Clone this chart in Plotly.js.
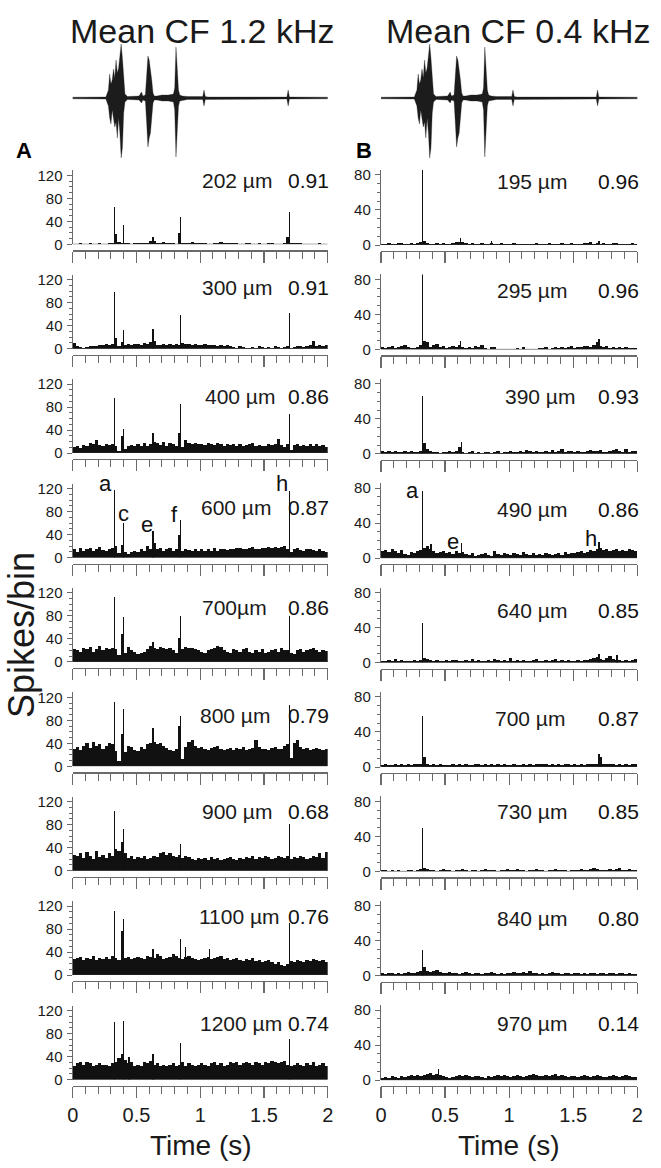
<!DOCTYPE html>
<html>
<head>
<meta charset="utf-8">
<script src="https://cdn.plot.ly/plotly-3.0.1.min.js"></script>
<style>html,body{margin:0;padding:0;background:#fff;}</style>
</head>
<body>
<div id="chart" style="width:661px;height:1168px;"></div>
<script>
// ---------------- DATA ----------------
const BIN = 0.025; // PSTH display bin (s) for background activity
const depthsA = ['202 µm','300 µm','400 µm','600 µm','700µm','800 µm','900 µm','1100 µm','1200 µm'];
const corrA   = ['0.91','0.91','0.86','0.87','0.86','0.79','0.68','0.76','0.74'];
const depthsB = ['195 µm','295 µm','390 µm','490 µm','640 µm','700 µm','730 µm','840 µm','970 µm'];
const corrB   = ['0.96','0.96','0.93','0.86','0.85','0.87','0.85','0.80','0.14'];

// background activity (spikes/bin), 80 bins over 0-2 s
const noiseA = [
 [1,1,2,1,0,2,1,1,2,1, 1,2,3,18,4,3,2,2,1,2, 2,3,2,2,5,5,2,2,4,2, 2,2,1,20,3,3,2,4,3,2, 2,2,1,1,2,3,4,3,2,3, 2,2,1,1,2,2,1,1,2,1, 1,2,2,1,1,1,2,13,3,2, 2,2,1,1,1,1,1,2,1,1],
 [10,4,3,2,3,4,4,5,6,7, 8,6,9,18,4,12,6,8,7,9, 8,6,10,9,12,14,6,7,8,6, 8,7,9,6,10,8,9,7,8,7, 6,8,7,6,7,5,6,5,6,4, 3,2,4,3,2,1,3,2,4,3, 2,3,1,4,3,2,3,5,2,3, 4,5,3,4,6,13,5,6,5,7],
 [10,12,9,14,12,18,15,22,14,12, 16,14,15,12,3,30,8,13,14,12, 15,13,17,12,16,20,18,14,19,13, 17,15,12,35,10,22,18,16,18,15, 16,14,17,15,14,18,15,13,16,14, 15,13,16,12,14,15,17,13,14,12, 13,15,14,16,25,14,10,15,5,14, 16,12,14,12,15,13,16,12,14,11],
 [14,10,16,12,14,16,12,15,18,13, 12,14,16,20,8,22,10,6,9,12, 10,14,12,20,15,25,14,16,12,14, 16,12,14,40,12,15,13,12,14,12, 15,12,14,12,16,12,14,15,13,14, 15,16,17,14,15,16,18,14,15,17, 16,18,17,19,16,18,20,15,10,14, 16,13,12,15,14,13,12,14,11,10],
 [22,20,18,24,22,26,18,22,27,20, 24,22,25,22,12,48,16,26,20,18, 14,16,18,22,28,24,22,26,24,22, 25,20,16,42,22,26,24,25,22,20, 18,15,20,22,24,28,26,20,18,16, 22,20,18,22,24,18,16,20,18,22, 16,18,20,22,18,24,20,20,16,14, 20,22,18,20,22,24,20,18,20,19],
 [30,34,28,36,40,32,42,36,38,30, 36,40,38,26,10,57,24,36,34,28, 26,34,30,38,40,42,38,40,36,32, 28,26,30,70,12,34,42,45,36,32, 34,30,28,32,34,36,30,28,30,32, 28,32,30,34,28,30,32,46,34,30, 30,28,32,34,30,30,36,38,15,40, 45,34,30,32,28,30,32,30,28,30],
 [28,25,30,22,32,26,20,35,24,28, 22,30,25,38,34,50,30,22,26,20, 24,22,26,20,22,26,24,30,32,28, 30,26,24,28,22,25,24,20,18,22, 20,22,18,24,20,22,18,20,22,24, 20,18,22,20,24,22,26,20,24,22, 26,24,20,22,26,24,22,25,20,24, 22,26,24,20,22,26,24,30,22,32],
 [28,30,32,26,30,28,34,26,30,28, 32,28,34,30,26,77,30,32,28,30, 32,30,28,34,32,30,36,34,28,30, 32,36,34,30,28,32,34,30,28,26, 28,30,32,28,30,32,34,28,30,26, 28,30,26,24,28,26,30,24,26,22, 24,26,22,20,22,18,16,20,24,22, 26,24,22,26,24,28,26,24,26,22],
 [24,28,30,26,30,28,24,26,28,25, 26,24,28,30,38,44,34,28,30,24, 26,24,30,28,32,26,28,24,26,24, 26,28,24,26,30,24,28,26,24,26, 28,26,24,28,30,26,28,24,26,30, 28,30,26,28,30,28,26,30,28,26, 30,28,32,30,28,30,32,26,24,26, 28,26,24,28,26,30,24,26,28,24]
];
const noiseB = [
 [1,1,2,1,1,2,2,1,1,2, 1,2,3,5,2,1,1,2,1,2, 1,1,2,3,4,3,2,1,2,1, 1,2,1,1,2,1,1,2,1,1, 1,2,1,1,1,1,1,1,2,1, 1,1,2,1,1,1,2,1,1,2, 1,1,1,2,2,3,1,2,1,2, 1,1,2,2,1,1,1,1,2,1],
 [3,2,3,4,2,3,4,5,3,2, 2,3,5,10,8,3,5,6,3,4, 2,3,4,3,5,3,2,3,2,4, 3,5,2,1,3,3,1,0,1,1, 0,1,2,1,3,1,1,0,1,2, 2,3,1,2,3,2,3,2,3,4, 2,3,3,4,4,3,5,8,4,3, 4,2,3,2,3,2,3,2,2,2],
 [3,2,3,2,3,2,2,3,2,3, 2,2,3,12,5,3,2,2,1,2, 2,3,2,3,8,2,1,2,3,1, 2,1,2,2,1,2,3,1,2,2, 3,2,2,3,2,4,3,2,3,2, 2,3,2,4,2,3,5,2,3,3, 2,3,2,2,3,4,3,3,4,2, 2,3,4,5,3,2,6,2,3,3],
 [8,9,7,10,8,6,9,5,4,7, 6,8,9,12,14,10,8,6,7,8, 6,7,5,8,6,7,5,4,6,3, 4,5,6,4,3,8,5,4,6,5, 4,6,5,4,7,5,4,6,4,5, 4,6,5,4,5,6,4,7,5,6, 6,7,8,6,7,9,8,10,12,9, 10,8,9,10,8,9,8,10,9,8],
 [2,2,3,2,4,2,3,2,2,2, 3,2,3,5,4,3,2,3,2,2, 3,2,3,3,2,2,3,2,4,2, 3,2,2,3,2,4,3,2,3,2, 5,2,3,2,3,2,2,3,4,2, 2,3,2,3,4,2,3,2,3,2, 2,3,2,3,3,4,5,6,4,3, 5,7,4,3,3,2,3,2,3,4],
 [2,3,2,2,3,2,4,2,3,2, 3,4,3,12,3,2,3,2,3,2, 2,2,3,2,3,2,3,2,2,3, 3,2,3,2,3,2,3,2,3,2, 2,3,2,2,3,2,3,2,3,3, 4,3,2,3,2,3,2,4,3,2, 3,2,3,2,3,4,3,3,12,3, 3,4,3,2,3,2,3,2,3,4],
 [2,2,1,2,1,2,1,1,2,2, 1,2,3,4,3,2,2,1,2,3, 2,2,1,2,2,3,2,1,2,2, 1,2,3,2,2,2,1,2,2,3, 2,2,3,2,2,1,2,2,3,2, 2,1,2,2,3,2,2,2,1,2, 2,2,3,2,2,3,4,3,2,2, 2,3,2,3,4,2,2,3,2,2],
 [3,2,3,3,2,3,2,3,4,3, 3,4,5,10,6,4,5,7,4,3, 3,4,3,3,2,3,4,3,2,3, 3,2,3,3,4,3,2,3,2,3, 3,4,3,3,4,3,5,3,3,2, 3,2,3,4,3,3,2,3,3,2, 3,3,2,3,2,3,3,2,3,3, 2,3,3,2,3,3,2,3,2,2],
 [3,4,3,5,4,3,5,4,5,6, 5,6,5,6,7,8,6,7,6,5, 4,3,4,5,6,5,6,5,4,5, 5,4,3,5,4,5,6,5,6,5, 4,5,6,5,4,5,6,7,6,5, 5,6,5,6,7,5,6,5,4,5, 5,4,5,6,5,4,5,6,5,4, 4,5,6,5,4,5,6,5,4,4]
];

// stimulus-locked peaks: times (s) and heights (spikes/bin)
const peaksA_t = [
 [0.326,0.397,0.630,0.844,1.699],
 [0.326,0.397,0.630,0.844,1.699],
 [0.326,0.397,0.630,0.844,1.699],
 [0.326,0.397,0.630,0.844,1.699],
 [0.326,0.397,0.630,0.844,1.699],
 [0.326,0.397,0.630,0.844,1.699],
 [0.326,0.397,0.844,1.699],
 [0.326,0.397,0.630,0.844,0.885,1.075,1.699],
 [0.326,0.397,0.440,0.630,0.844,1.699]
];
const peaksA_h = [
 [65,33,12,47,57],
 [98,33,35,58,62],
 [96,42,35,85,68],
 [118,60,46,65,115],
 [113,78,35,80,80],
 [112,100,67,87,107],
 [104,73,47,82],
 [112,98,45,63,48,45,90],
 [100,102,40,45,63,70]
];
const peaksB_t = [
 [0.326,0.620,0.860,1.700],
 [0.326,0.620,1.700],
 [0.326,0.630],
 [0.326,0.390,0.630,1.700],
 [0.326,1.700,1.840],
 [0.326,1.700],
 [0.326],
 [0.326],
 [0.450]
];
const peaksB_h = [
 [86,8,5,5],
 [86,10,12],
 [66,14],
 [77,16,17,19],
 [45,10,9],
 [58,15],
 [50],
 [30],
 [13]
];

// stimulus waveform envelope (time s, upper / lower amplitude, arbitrary units)
const wave_t  = [-0.02,0.26,0.28,0.29,0.30,0.31,0.32,0.33,0.34,0.35,0.36,0.37,0.38,0.39,0.40,0.41,0.43,0.52,0.54,0.55,0.57,0.58,0.59,0.60,0.61,0.62,0.63,0.64,0.66,0.70,0.75,0.79,0.80,0.81,0.82,0.83,0.84,0.86,0.90,1.02,1.03,1.04,1.06,1.50,1.68,1.69,1.70,2.02];
const wave_up = [0.8,1,8,24,14,18,29,20,38,25,30,45,54,40,15,4,1.5,2,6,2,3,20,42,38,30,18,5,2,2,3,3,4,10,51,30,8,3,2,1.5,1.5,8,1.5,1,1,1,8,1,0.8];
const wave_dn = [-0.8,-1,-8,-20,-26,-12,-22,-29,-24,-40,-20,-35,-60,-50,-15,-4,-1.5,-2,-5,-2,-3,-25,-49,-40,-35,-22,-5,-2,-2,-3,-3,-4,-12,-59,-40,-8,-3,-2,-1.5,-1.5,-8,-1.5,-1,-1,-1,-8,-1,-0.8];

// letter labels (row 4)
const lettersA = ['a','c','e','f','h'];
const lettersA_t = [0.26,0.397,0.58,0.80,1.64];
const lettersA_y = [128,77,58,74,128];
const lettersB = ['a','e','h'];
const lettersB_t = [0.247,0.564,1.636];
const lettersB_y = [77,19,22];

// ---------------- LAYOUT ----------------
const W = 661, H = 1168;
const FONT = '"Liberation Sans",Arial,sans-serif';
const AXC = '#6a6a6a';
const colX = [[72.7, 327.7],[381, 637.3]];
const colTop = [74, 75];      // px height of y axis
const colRange = [128.7, 85.7];
const labOffA = [64,61,57,50,54,51,59,59,56];
const labOffB = [64,59,57,49,52,49,60,57,57];
const depthXA = [237,237,240,236,234,235,237,239,241];
const depthXB = [532,532,540,532,532,530,532,532,532];

const traces = [];
const layout = {
  width: W, height: H, margin:{l:0,r:0,t:0,b:0}, showlegend:false,
  paper_bgcolor:'#ffffff', plot_bgcolor:'rgba(0,0,0,0)',
  barmode:'overlay', bargap:0,
  font:{family:FONT, color:'#1a1a1a'},
  annotations:[], shapes:[]
};
const py = px => 1 - px / H;
const pxX = px => px / W;

for (let c = 0; c < 2; c++) {
  const noise = c === 0 ? noiseA : noiseB;
  const pkT = c === 0 ? peaksA_t : peaksB_t;
  const pkH = c === 0 ? peaksA_h : peaksB_h;
  const depths = c === 0 ? depthsA : depthsB;
  const corr = c === 0 ? corrA : corrB;
  for (let i = 0; i < 9; i++) {
    const n = c * 9 + i + 1;
    const xa = 'x' + n, ya = 'y' + n;
    const y0 = 244.3 + 104.4 * i + (c === 1 ? 0.7 : 0);
    const top = y0 - colTop[c];
    traces.push({type:'bar', xaxis:xa, yaxis:ya, y:noise[i], x0:BIN/2, dx:BIN, width:BIN,
      marker:{color:'#111', line:{width:0}}, hoverinfo:'skip'});
    traces.push({type:'bar', xaxis:xa, yaxis:ya, x:pkT[i], y:pkH[i], width:0.011,
      marker:{color:'#111', line:{width:0}}, hoverinfo:'skip'});
    layout['xaxis' + n] = {
      domain:[pxX(colX[c][0]), pxX(colX[c][1])], range:[0,2], anchor:'free',
      position: py(y0 + 6), showline:true, linecolor:AXC, linewidth:1.2,
      ticks:'outside', ticklen:11, tickwidth:1.2, tickcolor:AXC, tick0:0, dtick:0.5,
      minor:{dtick:0.1, tick0:0, ticks:'outside', ticklen:7, tickwidth:1, tickcolor:AXC},
      showgrid:false, zeroline:false, showticklabels: i === 8,
      tickfont:{size:20, family:FONT, color:'#1a1a1a'}, fixedrange:true
    };
    layout['yaxis' + n] = {
      domain:[py(y0), py(top)], range:[0, colRange[c]], anchor:xa,
      showline:true, linecolor:AXC, linewidth:1.2,
      ticks:'outside', ticklen:5, tickwidth:1, tickcolor:AXC, tick0:0, dtick:40,
      minor:{dtick:10, tick0:0, ticks:'outside', ticklen:3, tickwidth:1, tickcolor:AXC},
      showgrid:false, zeroline:false, tickfont:{size:15, family:FONT, color:'#1a1a1a'},
      ticklabelstandoff:1, fixedrange:true
    };
    layout.shapes.push({type:'line', xref:xa, yref:ya, x0:0, x1:2, y0:0, y1:0,
      line:{color:'#333', width:1}});
    const off = c === 0 ? labOffA[i] : labOffB[i];
    const dx = c === 0 ? depthXA[i] : depthXB[i];
    layout.annotations.push({text:depths[i], xref:'paper', yref:'paper', x:pxX(dx), y:py(y0 - off),
      xanchor:'center', yanchor:'middle', showarrow:false, font:{size:21, family:FONT, color:'#1a1a1a'}});
    layout.annotations.push({text:corr[i], xref:'paper', yref:'paper', x:pxX(c === 0 ? 331 : 641), y:py(y0 - off),
      xanchor:'right', yanchor:'middle', showarrow:false, font:{size:21, family:FONT, color:'#111'}});
    if (i === 3) {
      const L = c === 0 ? lettersA : lettersB;
      const Lt = c === 0 ? lettersA_t : lettersB_t;
      const Ly = c === 0 ? lettersA_y : lettersB_y;
      for (let k = 0; k < L.length; k++) {
        layout.annotations.push({text:L[k], xref:xa, yref:ya, x:Lt[k], y:Ly[k],
          xanchor:'center', yanchor:'middle', showarrow:false, font:{size:22, family:FONT, color:'#111'}});
      }
    }
  }
}

// waveform panels
for (let c = 0; c < 2; c++) {
  const n = 19 + c;
  traces.push({type:'scatter', mode:'lines', xaxis:'x' + n, yaxis:'y' + n,
    x: wave_t.concat(wave_t.slice().reverse()),
    y: wave_up.concat(wave_dn.slice().reverse()),
    fill:'toself', fillcolor:'#1c1c1c', line:{color:'#1c1c1c', width:0.3}, hoverinfo:'skip'});
  layout['xaxis' + n] = {domain:[pxX(colX[c][0]), pxX(colX[c][1])], range:[0,2], anchor:'y' + n, visible:false, fixedrange:true};
  layout['yaxis' + n] = {domain:[py(158), py(38)], range:[-60,60], anchor:'x' + n, visible:false, fixedrange:true};
}

// titles and labels
const big = (text, x, y, size, extra) => Object.assign({text, xref:'paper', yref:'paper', x:pxX(x), y:py(y),
  xanchor:'center', yanchor:'middle', showarrow:false, font:{size, family:FONT, color:'#1a1a1a'}}, extra || {});
layout.annotations.push(big('Mean CF 1.2 kHz', 202, 31, 34));
layout.annotations.push(big('Mean CF 0.4 kHz', 518, 31, 34));
layout.annotations.push(big('<b>A</b>', 24, 150, 22, {font:{size:22, family:FONT, color:'#000'}}));
layout.annotations.push(big('<b>B</b>', 364, 150, 22, {font:{size:22, family:FONT, color:'#000'}}));
layout.annotations.push(big('Spikes/bin', 21, 635, 36, {textangle:-90}));
layout.annotations.push(big('Time (s)', 201, 1145, 28));
layout.annotations.push(big('Time (s)', 509, 1145, 28));

Plotly.newPlot('chart', traces, layout, {staticPlot:true, displayModeBar:false});
</script>
</body>
</html>
